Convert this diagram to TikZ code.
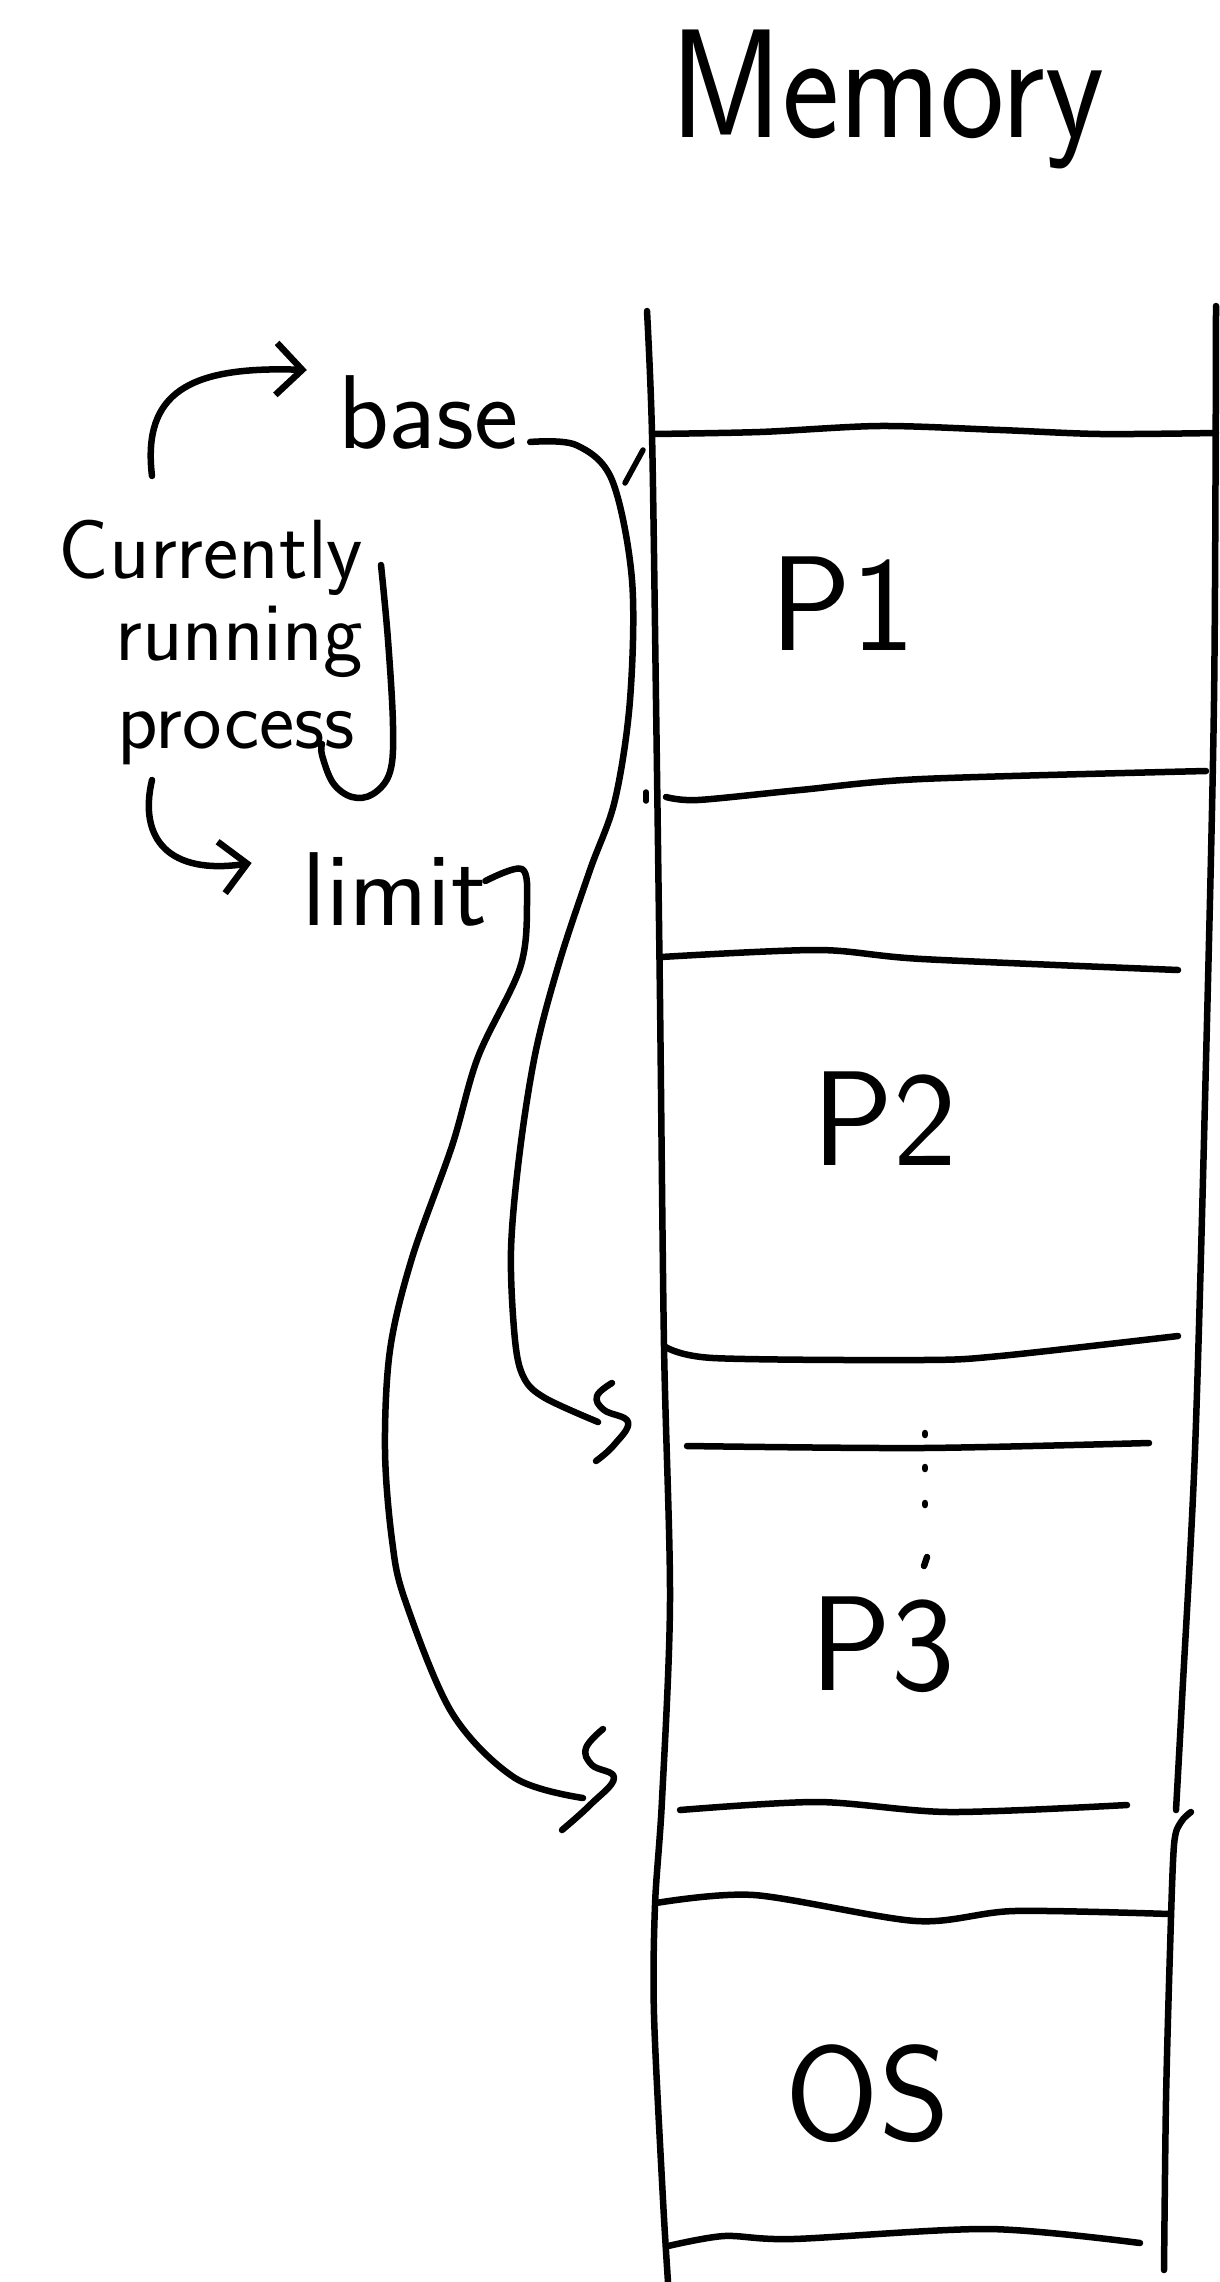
\documentclass[tikz,border=0pt]{standalone}
\usetikzlibrary{arrows.meta}
\begin{document}
\begin{tikzpicture}[x=1pt,y=-1pt,line width=6.5pt,line cap=round,line join=round,
  pen/.style={line width=6.5pt},
  thinpen/.style={line width=5.5pt},
  big/.style={font=\sffamily\fontsize{135pt}{135pt}\selectfont,inner sep=3pt,anchor=base},
  title/.style={font=\sffamily\fontsize{155pt}{155pt}\selectfont,inner sep=3pt,anchor=base,xscale=0.88},
  note/.style={font=\sffamily\fontsize{84pt}{84pt}\selectfont,inner sep=1pt,anchor=base},
  word/.style={font=\sffamily\fontsize{105pt}{105pt}\selectfont,inner sep=3pt,anchor=base},
  barb/.style={-{Straight Barb[length=26pt,width=52pt]}},
  dot/.style={line width=6.5pt,line cap=round}]
\useasboundingbox (0,0) rectangle (1219,2282);

% title
\node[title] (mem) at (887,138) {Memory};

% memory column
\draw[pen] plot[smooth,tension=0.5] coordinates {(647,311) (652,434) (656,700) (660,1000) (664,1346) (670,1600) (662,1800) (655,1905) (654,2015) (663,2200) (668,2282)};
\draw[pen] plot[smooth,tension=0.5] coordinates {(1216,306) (1214,700) (1205,1100) (1195,1450) (1182,1700) (1176,1810)};
\draw[pen] plot[smooth,tension=0.5] coordinates {(1191,1812) (1181,1822) (1174,1845) (1170,1950) (1166,2100) (1164,2270)};

% horizontal separators
\draw[pen] plot[smooth,tension=0.5] coordinates {(652,434) (760,432) (880,426) (1000,430) (1100,434) (1216,433)};
\draw[pen] plot[smooth,tension=0.5] coordinates {(666,797) (698,800) (800,790) (922,779) (1206,771)};
\draw[pen] plot[smooth,tension=0.5] coordinates {(661,957) (818,950) (922,959) (1178,970)};
\draw[pen] plot[smooth,tension=0.5] coordinates {(664,1346) (713,1358) (922,1360) (1000,1356) (1178,1336)};
\draw[pen] plot[smooth,tension=0.5] coordinates {(687,1446) (922,1448) (1149,1443)};
\draw[pen] plot[smooth,tension=0.5] coordinates {(680,1810) (818,1802) (949,1812) (1127,1805)};
\draw[pen] plot[smooth,tension=0.5] coordinates {(656,1903) (754,1895) (916,1921) (1014,1911) (1170,1914)};
\draw[pen] plot[smooth,tension=0.5] coordinates {(668,2246) (724,2236) (793,2239) (989,2229) (1140,2243)};

% small ticks
\draw[thinpen] (643,450) -- (625,483);
\draw[thinpen] (646,792) -- (646,801);

% dotted mark in P3
\foreach \yy in {1433,1467,1503} {\draw[dot] (925,\yy) -- (925,\yy+2);}
\draw[dot] (927,1557) -- (924,1566);

% region labels
\node[big] (p1) at (843,650) {P1};
\node[big] (p2) at (885,1165) {P2};
\node[big] (p3) at (883,1690) {P3};
\node[big] (os) at (868,2140) {OS};

% left annotations
\node[word] (base) at (428,448) {base};
\node[note] (cur1) at (211,578) {Currently};
\node[note] (cur2) at (239,660) {running};
\node[note] (cur3) at (236,748) {process};
\node[word] (limit) at (395,925) {limit};

% loop of the y around "running process"
\draw[pen] plot[smooth,tension=0.6] coordinates {(381,565) (388,640) (393,726) (390,772) (373,794) (352,797) (333,783) (322,755) (322,744)};

% arrows from the note to base and limit
\coordinate (a1) at (152,476);
\draw[pen,barb] (a1) .. controls (142,392) and (190,366) .. ([xshift=-25pt,yshift=42pt]base.west);
\coordinate (a2) at (152,780);
\draw[pen,barb] (a2) .. controls (138,840) and (170,875) .. ([xshift=-45pt,yshift=26pt]limit.west);

% heads of the connectors
\coordinate (s1) at (598,1422);
\coordinate (s2) at (583,1798);
\draw[pen] plot[smooth,tension=0.7] coordinates {(612,1383) (597,1396) (604,1410) (628,1422) (614,1445) (596,1461)};
\draw[pen] plot[smooth,tension=0.7] coordinates {(603,1729) (586,1748) (592,1765) (614,1778) (590,1805) (562,1830)};

% connectors
\draw[pen] plot[smooth,tension=0.55] coordinates {([xshift=6pt,yshift=-30pt]base.east) (576,445) (612,480) (632,580) (630,700) (615,800) (590,870) (560,960) (536,1050) (520,1150) (511,1250) (515,1340) (524,1378) (545,1398) (s1)};
\draw[pen] plot[smooth,tension=0.55] coordinates {([xshift=-8pt,yshift=8pt]limit.east) (522,869) (527,905) (520,968) (478,1057) (452,1146) (412,1258) (390,1350) (385,1450) (392,1540) (405,1600) (452,1713) (515,1778) (s2)};
\end{tikzpicture}
\end{document}
